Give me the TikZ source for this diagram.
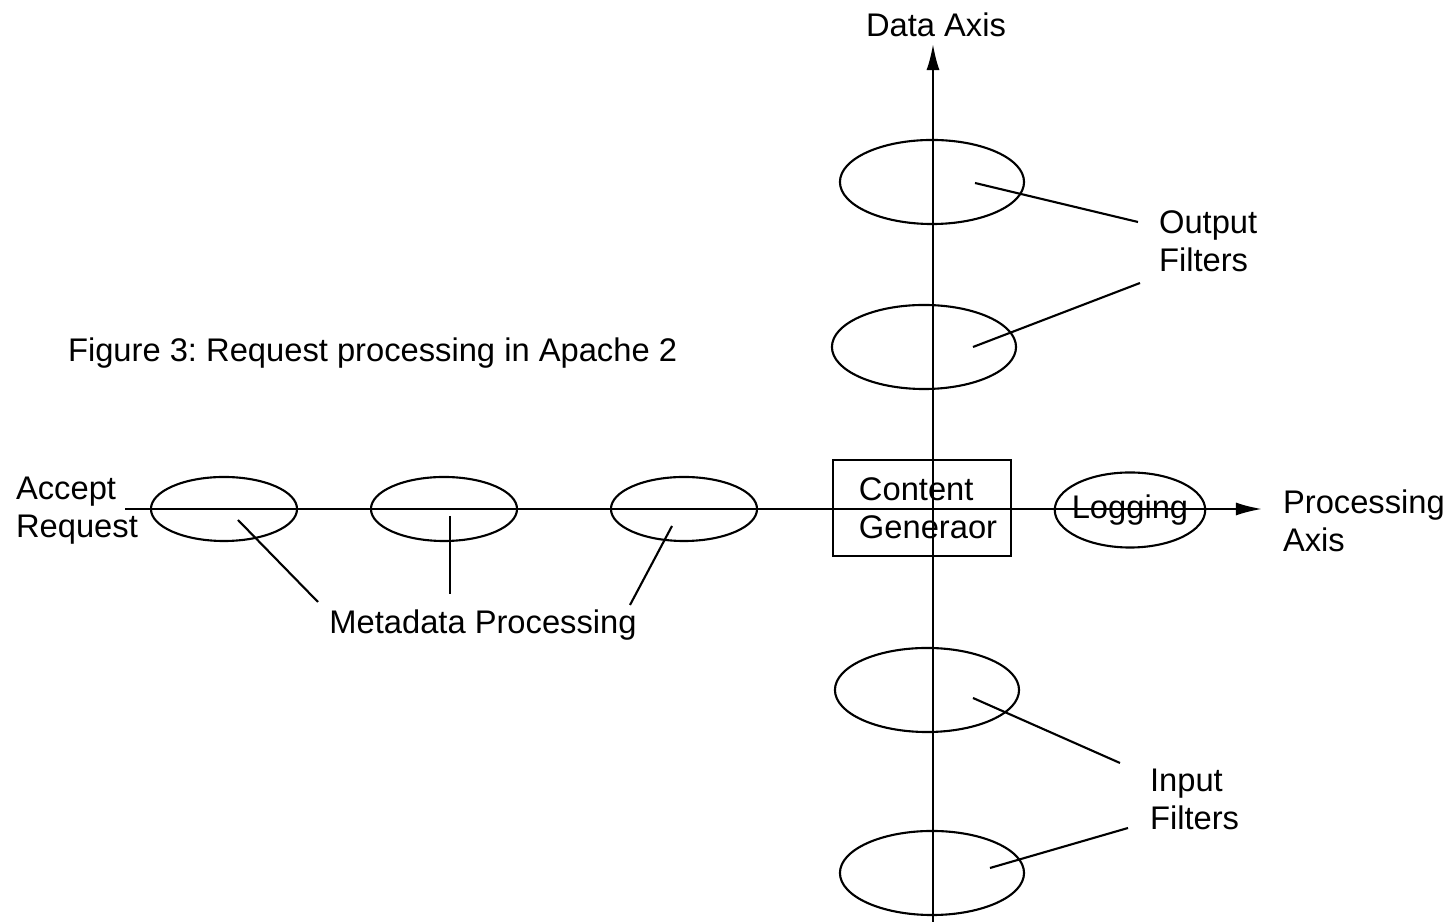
\documentclass[tikz,border=0pt]{standalone}
\usepackage{fontspec}
\setmainfont{Liberation Sans}
\usetikzlibrary{shapes.geometric,arrows.meta}
\frenchspacing

\tikzset{
    lbl/.style={inner sep=0pt, align=left, font=\fontsize{9.3}{10.8}\selectfont},
    vblob/.style={draw, ellipse, inner sep=0pt, minimum width=1.84cm, minimum height=0.84cm},
    hblob/.style={draw, ellipse, inner sep=0pt, minimum width=1.46cm, minimum height=0.64cm},
    leader/.style={line width=0.6pt},
    axis/.style={line width=0.6pt, -{Latex[length=0.26cm,width=0.13cm]}}
}

\begin{document}
\begin{tikzpicture}[x=0.01cm,y=-0.01cm,line width=0.6pt]
    \useasboundingbox (0,0) rectangle (1450,922);
    %\draw[very thin,color=gray] (0,0) grid[step=100] (1450,922);

    % axes
    \coordinate (pstart) at (125,509);
    \coordinate (pend) at (1262,509);
    \coordinate (dbot) at (933,922);
    \coordinate (dtop) at (933,44);
    \draw[axis] (pstart) -- (pend);
    \draw[axis] (dbot) -- (dtop);

    % labels
    \node[lbl] (datalbl) at (936,25) {Data Axis};
    \node[lbl,anchor=west] (proclbl) at (1282,521) {Processing\\Axis};
    \node[lbl,anchor=west] (accept) at (15,511) {Accept\\Request};
    \node[lbl,anchor=west] (caption) at (67,353) {Figure 3: Request processing in Apache 2};
    \node[lbl,anchor=west] (outlbl) at (1158,241) {Output\\Filters};
    \node[lbl,anchor=west] (inlbl) at (1149,799) {Input\\Filters};
    \node[lbl] (metalbl) at (483,625) {Metadata Processing};

    % filters on the data axis
    \node[vblob] (out1) at (932,182) {};
    \node[vblob] (out2) at (924,347) {};
    \node[vblob] (in1) at (927,690) {};
    \node[vblob] (in2) at (932,873) {};

    % stages on the processing axis
    \node[hblob] (meta1) at (224,509) {};
    \node[hblob] (meta2) at (444,509) {};
    \node[hblob] (meta3) at (684,509) {};
    \node[draw, ellipse, inner xsep=-0.05cm, inner ysep=0pt, minimum width=1.5cm, minimum height=0.75cm, font=\fontsize{9.3}{10.8}\selectfont] (logging) at (1130,510) {Logging};
    \node[draw, inner xsep=0.26cm, inner ysep=0pt, text width=1.26cm, minimum height=0.96cm, align=left, font=\fontsize{9.3}{10.8}\selectfont] (content) at (922,508) {Content\\Generaor};

    % leaders
    \coordinate (o1a) at (975,183);  \coordinate (o1b) at (1138,222);
    \coordinate (o2a) at (973,347);  \coordinate (o2b) at (1140,283);
    \coordinate (i1a) at (973,698);  \coordinate (i1b) at (1120,763);
    \coordinate (i2a) at (990,868);  \coordinate (i2b) at (1128,828);
    \coordinate (m1a) at (238,520);  \coordinate (m1b) at (318,602);
    \coordinate (m2a) at (450,516);  \coordinate (m2b) at (450,594);
    \coordinate (m3a) at (672,526);  \coordinate (m3b) at (630,605);
    \draw[leader] (o1a) -- (o1b);
    \draw[leader] (o2a) -- (o2b);
    \draw[leader] (i1a) -- (i1b);
    \draw[leader] (i2a) -- (i2b);
    \draw[leader] (m1a) -- (m1b);
    \draw[leader] (m2a) -- (m2b);
    \draw[leader] (m3a) -- (m3b);
\end{tikzpicture}
\end{document}
